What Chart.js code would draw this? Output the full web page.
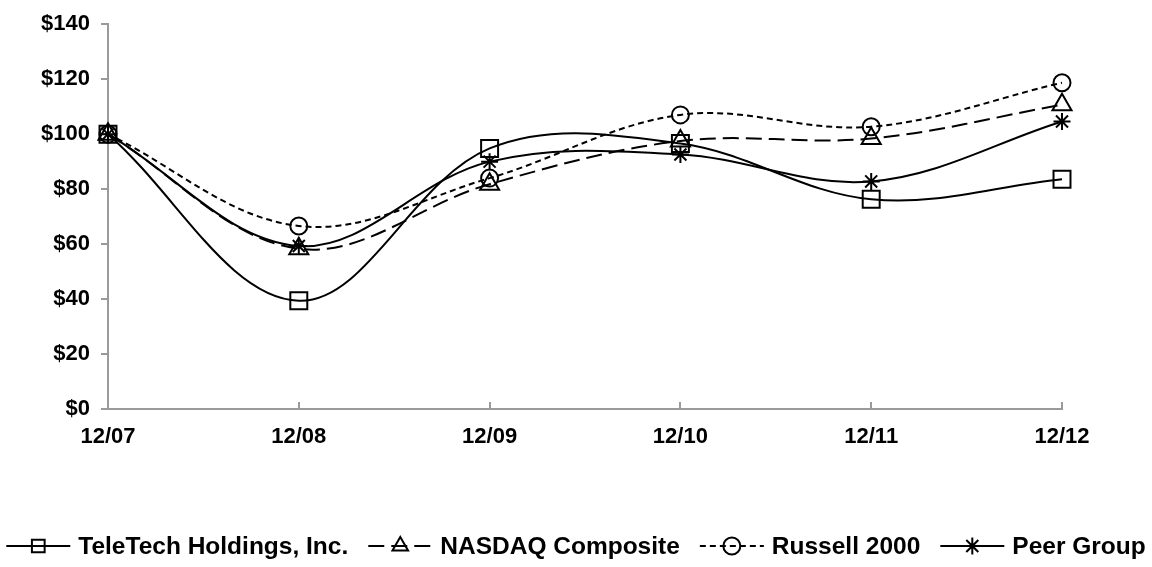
<!DOCTYPE html>
<html>
<head>
<meta charset="utf-8">
<script src="https://cdn.jsdelivr.net/npm/chart.js@4.4.1/dist/chart.umd.min.js"></script>
<style>
  html, body { margin: 0; padding: 0; background: #ffffff; }
  #wrap { width: 1152px; height: 567px; position: relative; }
  canvas { display: block; }
</style>
</head>
<body>
<div id="wrap"><canvas id="c" width="1152" height="567"></canvas></div>
<script>
const categories = ['12/07', '12/08', '12/09', '12/10', '12/11', '12/12'];
const teletech = [100, 39.4, 94.8, 96.6, 76.3, 83.6];
const nasdaq   = [100, 58.3, 81.8, 97.5, 98.4, 110.7];
const russell  = [100, 66.6, 84.0, 107.0, 102.7, 118.7];
const peer     = [100, 59.3, 90.0, 92.6, 82.8, 104.6];
const yTickValues = [0, 20, 40, 60, 80, 100, 120, 140];
const seriesNames = ['TeleTech Holdings, Inc.', 'NASDAQ Composite', 'Russell 2000', 'Peer Group'];

const FONT = '"Liberation Sans", Arial, sans-serif';
const AXIS_COLOR = '#9a9a9a';

function mkSet(label, data, style, radius, dash) {
  return {
    label: label,
    data: data,
    borderColor: '#000000',
    backgroundColor: 'rgba(0,0,0,0)',
    borderWidth: 2,
    borderDash: dash,
    tension: 0.36,
    fill: false,
    pointStyle: style,
    pointRadius: radius,
    pointHoverRadius: radius,
    pointBorderColor: '#000000',
    pointBackgroundColor: 'rgba(0,0,0,0)',
    pointBorderWidth: 2
  };
}

const datasets = [
  mkSet(seriesNames[0], teletech, 'rect', 12, []),
  mkSet(seriesNames[1], nasdaq, 'triangle', 11, [16, 7]),
  mkSet(seriesNames[2], russell, 'circle', 8.5, [6, 4]),
  mkSet(seriesNames[3], peer, 'star', 8.5, [])
];

function drawMarker(ctx, style, r, x, y) {
  ctx.save();
  ctx.setLineDash([]);
  ctx.lineWidth = 2;
  ctx.strokeStyle = '#000';
  ctx.beginPath();
  if (style === 'rect') {
    const s = Math.SQRT1_2 * r;
    ctx.rect(x - s, y - s, 2 * s, 2 * s);
  } else if (style === 'circle') {
    ctx.arc(x, y, r, 0, Math.PI * 2);
  } else if (style === 'triangle') {
    let rad = 0;
    ctx.moveTo(x + Math.sin(rad) * r, y - Math.cos(rad) * r);
    rad += 2 * Math.PI / 3;
    ctx.lineTo(x + Math.sin(rad) * r, y - Math.cos(rad) * r);
    rad += 2 * Math.PI / 3;
    ctx.lineTo(x + Math.sin(rad) * r, y - Math.cos(rad) * r);
    ctx.closePath();
  } else if (style === 'star') {
    for (let k = 0; k < 4; k++) {
      const a = k * Math.PI / 4;
      ctx.moveTo(x + Math.cos(a) * r, y + Math.sin(a) * r);
      ctx.lineTo(x - Math.cos(a) * r, y - Math.sin(a) * r);
    }
  }
  ctx.stroke();
  ctx.restore();
}

const customPlugin = {
  id: 'custom',
  afterDraw(chart) {
    const ctx = chart.ctx;
    const xs = chart.scales.x;
    const area = chart.chartArea;
    // inward tick marks on x axis
    ctx.save();
    ctx.strokeStyle = AXIS_COLOR;
    ctx.lineWidth = 2;
    ctx.beginPath();
    for (let i = 1; i < categories.length; i++) {
      const px = Math.round(xs.getPixelForValue(i));
      ctx.moveTo(px, area.bottom);
      ctx.lineTo(px, area.bottom - 7);
    }
    ctx.stroke();
    ctx.restore();

    // legend
    ctx.save();
    ctx.font = 'bold 24.5px ' + FONT;
    ctx.textBaseline = 'middle';
    ctx.fillStyle = '#000';
    const symW = 64, symGap = 8, itemGap = 20;
    const widths = chart.data.datasets.map(d => ctx.measureText(d.label).width);
    let total = 0;
    widths.forEach((w, i) => { total += symW + symGap + w + (i < widths.length - 1 ? itemGap : 0); });
    let x = 576 - total / 2;
    const y = 546;
    chart.data.datasets.forEach((d, i) => {
      ctx.save();
      ctx.strokeStyle = '#000';
      ctx.lineWidth = 2;
      ctx.setLineDash(d.borderDash || []);
      ctx.beginPath();
      ctx.moveTo(x, y);
      ctx.lineTo(x + symW, y);
      ctx.stroke();
      ctx.restore();
      drawMarker(ctx, d.pointStyle, Math.min(d.pointRadius, 9), x + symW / 2, y);
      ctx.fillText(d.label, x + symW + symGap, y + 1);
      x += symW + symGap + widths[i] + itemGap;
    });
    ctx.restore();
  }
};

new Chart(document.getElementById('c'), {
  type: 'line',
  data: { labels: categories, datasets: datasets },
  plugins: [customPlugin],
  options: {
    responsive: false,
    animation: false,
    devicePixelRatio: 1,
    layout: { padding: { top: 22, right: 90, bottom: 118, left: 0 } },
    plugins: {
      legend: { display: false },
      tooltip: { enabled: false },
      title: { display: false }
    },
    scales: {
      x: {
        type: 'category',
        offset: false,
        grid: { display: false, drawTicks: false },
        border: { display: true, color: AXIS_COLOR, width: 2 },
        ticks: {
          color: '#000',
          font: { family: FONT, size: 22, weight: 'bold' },
          padding: 15,
          maxRotation: 0,
          autoSkip: false
        },
        afterFit(scale) { scale.height = 40; }
      },
      y: {
        min: 0,
        max: 140,
        afterBuildTicks(scale) { scale.ticks = yTickValues.map(v => ({ value: v })); },
        grid: { drawOnChartArea: false, drawTicks: true, tickLength: 7, color: AXIS_COLOR, lineWidth: 2 },
        border: { display: true, color: AXIS_COLOR, width: 2 },
        ticks: {
          color: '#000',
          font: { family: FONT, size: 22, weight: 'bold' },
          padding: 11,
          callback: v => '$' + v
        },
        afterFit(scale) { scale.width = 108; }
      }
    }
  }
});
</script>
</body>
</html>
